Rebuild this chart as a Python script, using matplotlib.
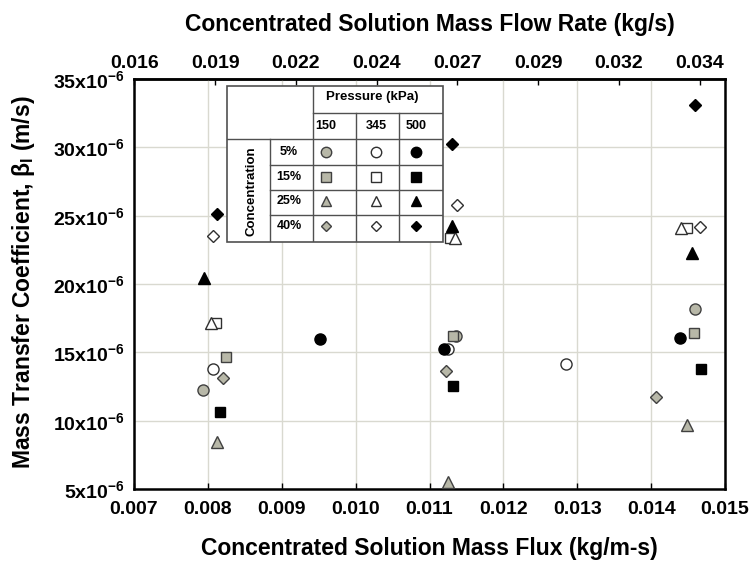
import numpy as np
import matplotlib
matplotlib.use('Agg')
import matplotlib.pyplot as plt
from matplotlib.patches import Rectangle
from matplotlib.ticker import FuncFormatter

plt.rcParams['font.family'] = ['Liberation Sans', 'DejaVu Sans']
plt.rcParams['font.weight'] = 'bold'
plt.rcParams['mathtext.fontset'] = 'custom'
plt.rcParams['mathtext.rm'] = 'Liberation Sans:bold'
plt.rcParams['mathtext.it'] = 'Liberation Sans:bold'
plt.rcParams['mathtext.bf'] = 'Liberation Sans:bold'

# Mass flux (kg/m-s) and mass transfer coefficient (x10^-6 m/s), 3 points per series
# key: (concentration, pressure)
flux = {
    ('5%', 150): [0.00794, 0.01136, 0.01460],
    ('5%', 345): [0.00807, 0.01125, 0.01285],
    ('5%', 500): [0.00952, 0.01120, 0.01439],
    ('15%', 150): [0.00825, 0.01132, 0.01458],
    ('15%', 345): [0.00811, 0.01128, 0.01449],
    ('15%', 500): [0.00817, 0.01132, 0.01468],
    ('25%', 150): [0.00812, 0.01125, 0.01448],
    ('25%', 345): [0.00804, 0.01134, 0.01441],
    ('25%', 500): [0.00795, 0.01131, 0.01456],
    ('40%', 150): [0.00820, 0.01123, 0.01407],
    ('40%', 345): [0.00807, 0.01137, 0.01466],
    ('40%', 500): [0.00813, 0.01131, 0.01459],
}
beta = {
    ('5%', 150): [12.25, 16.2, 18.15],
    ('5%', 345): [13.76, 15.25, 14.13],
    ('5%', 500): [15.96, 15.25, 16.03],
    ('15%', 150): [14.64, 16.2, 16.44],
    ('15%', 345): [17.13, 23.35, 24.08],
    ('15%', 500): [10.61, 12.54, 13.76],
    ('25%', 150): [8.44, 5.53, 9.69],
    ('25%', 345): [17.13, 23.35, 24.08],
    ('25%', 500): [20.47, 24.25, 22.25],
    ('40%', 150): [13.15, 13.66, 11.71],
    ('40%', 345): [23.54, 25.79, 24.15],
    ('40%', 500): [25.11, 30.26, 33.10],
}
concentrations = ['5%', '15%', '25%', '40%']
pressures = [150, 345, 500]
markers = {'5%': 'o', '15%': 's', '25%': '^', '40%': 'D'}
msizes = {'5%': 8, '15%': 7, '25%': 8, '40%': 6}
faces = {150: '#b8b8a8', 345: 'white', 500: 'black'}
edges = {150: '#404040', 345: '#303030', 500: 'black'}

x_ticks = [0.007, 0.008, 0.009, 0.010, 0.011, 0.012, 0.013, 0.014, 0.015]
y_ticks = [5, 10, 15, 20, 25, 30, 35]
flow_ticks = 0.01646 + np.arange(8) * 0.00257
k_flow = 2.35  # flow rate per unit flux

fig = plt.figure(figsize=(7.53, 5.65), dpi=100)
W, H = 753, 565
ax = fig.add_axes([134 / W, 1 - 489 / H, 591 / W, 410 / H])

for c in concentrations:
    for p in pressures:
        ax.plot(flux[(c, p)], np.array(beta[(c, p)]) * 1e-6, linestyle='none',
                marker=markers[c], ms=msizes[c], mfc=faces[p], mec=edges[p],
                mew=1.0, zorder=3)

ax.set_xlim(0.007, 0.015)
ax.set_ylim(5e-6, 35e-6)
ax.set_xticks(x_ticks)
ax.set_xticklabels([f'{v:.3f}' for v in x_ticks])
ax.set_yticks(np.array(y_ticks) * 1e-6)
ax.yaxis.set_major_formatter(FuncFormatter(lambda v, pos: f'{v * 1e6:.0f}x10$^{{-6}}$'))
ax.grid(True, color='#d9d9d0', lw=1.0, zorder=0)
ax.set_axisbelow(True)
for s in ax.spines.values():
    s.set_linewidth(1.8)
ax.tick_params(axis='x', direction='in', length=4, width=1, pad=9, labelsize=14)
ax.tick_params(axis='y', length=0, pad=7, labelsize=14)

top = ax.secondary_xaxis('top', functions=(lambda f: f * k_flow, lambda g: g / k_flow))
top.set_xticks(flow_ticks)
top.set_xticklabels([f'{v:.3f}' for v in flow_ticks])
top.tick_params(direction='in', length=4, width=1, pad=5, labelsize=14)
top.spines['top'].set_linewidth(1.8)

fig.text(429 / W, 1 - 548 / H, 'Concentrated Solution Mass Flux (kg/m-s)',
         ha='center', va='center', fontsize=16.5, fontweight='bold')
fig.text(430 / W, 1 - 24 / H, 'Concentrated Solution Mass Flow Rate (kg/s)',
         ha='center', va='center', fontsize=16.5, fontweight='bold')
fig.text(24 / W, 1 - 282 / H, r'Mass Transfer Coefficient, β$_{l}$ (m/s)',
         ha='center', va='center', rotation=90, fontsize=16.5, fontweight='bold')

# legend table
tab = fig.add_axes([227 / W, 1 - 242 / H, 216 / W, 156 / H])
tab.set_xlim(227, 443)
tab.set_ylim(242, 86)
tab.axis('off')
tab.add_patch(Rectangle((227, 86), 216, 156, facecolor='white', edgecolor='#505050',
                        lw=1.2, clip_on=False))
lc = '#505050'
tab.plot([313, 443], [113, 113], color=lc, lw=1)
tab.plot([227, 443], [139, 139], color=lc, lw=1)
for yy in [165, 190, 215]:
    tab.plot([270, 443], [yy, yy], color=lc, lw=1)
tab.plot([270, 270], [139, 242], color=lc, lw=1)
tab.plot([313, 313], [86, 242], color=lc, lw=1)
for xx in [356, 399]:
    tab.plot([xx, xx], [113, 242], color=lc, lw=1)
tab.text(372, 97, 'Pressure (kPa)', ha='center', va='center', fontsize=9.5)
col_x = [326, 376, 416]
for xx, p in zip(col_x, pressures):
    tab.text(xx, 126, str(p), ha='center', va='center', fontsize=9)
row_y = [152, 177, 201, 226]
for yy, c in zip(row_y, concentrations):
    tab.text(289, yy, c, ha='center', va='center', fontsize=9)
    for xx, p in zip(col_x, pressures):
        tab.plot(xx, yy, marker=markers[c], ms=msizes[c] - 0.5, mfc=faces[p],
                 mec=edges[p], mew=1.0, linestyle='none')
tab.text(251, 191, 'Concentration', ha='center', va='center', rotation=90, fontsize=9.5)

fig.savefig('out.png', dpi=100)
